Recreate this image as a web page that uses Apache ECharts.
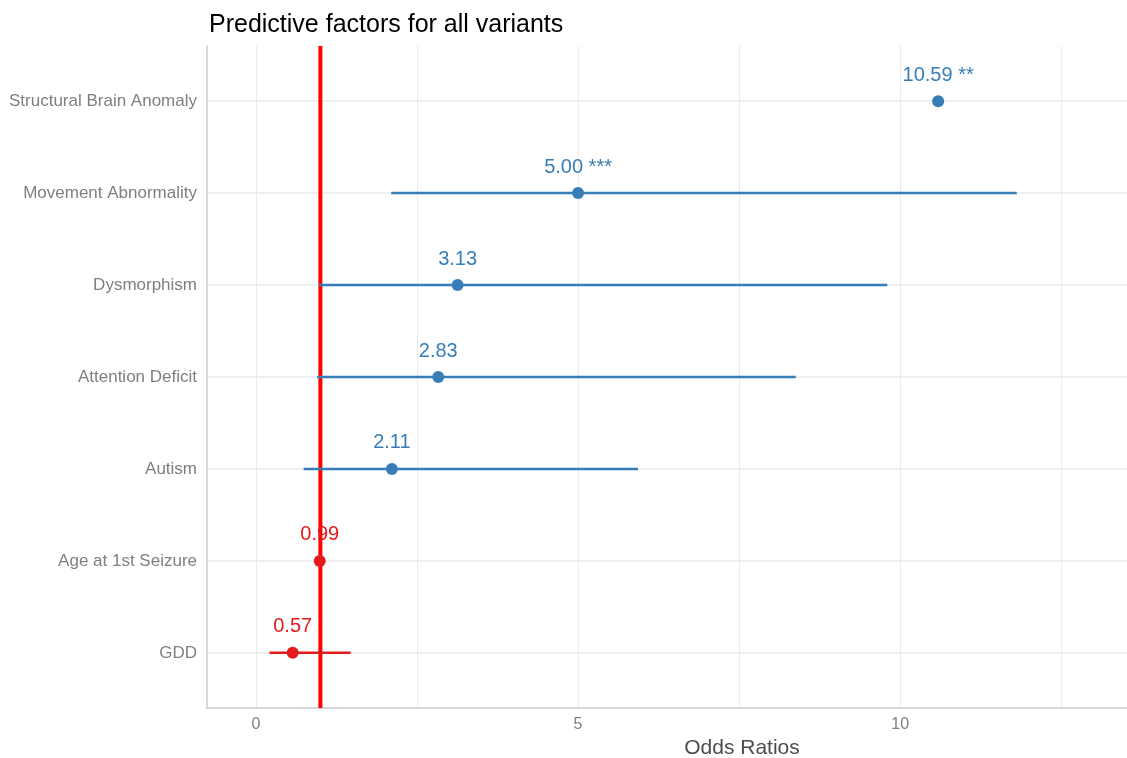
<!DOCTYPE html>
<html>
<head>
<meta charset="utf-8">
<script src="https://cdn.jsdelivr.net/npm/echarts@6/dist/echarts.min.js"></script>
<style>
  html, body { margin: 0; padding: 0; background: #ffffff; }
  #chart { width: 1127px; height: 758px; }
</style>
</head>
<body>
<div id="chart"></div>
<script>
// Predictors, listed bottom to top on the y axis
const factors = ['GDD', 'Age at 1st Seizure', 'Autism', 'Attention Deficit',
                 'Dysmorphism', 'Movement Abnormality', 'Structural Brain Anomaly'];
// Odds ratios and 95% confidence bounds (null = interval not shown)
const oddsRatios = [0.57, 0.99, 2.11, 2.83, 3.13, 5.00, 10.59];
const ciLower = [0.21, 0.98, 0.74, 0.95, 0.98, 2.10, null];
const ciUpper = [1.47, 1.01, 5.93, 8.38, 9.80, 11.81, null];
const significance = ['', '', '', '', '', '***', '**'];
// Axis ticks
const xGridValues = [0, 2.5, 5, 7.5, 10, 12.5, 15];
const xLabelValues = [0, 5, 10, 15];
const referenceOR = [1];

const BLUE = '#377EB8';
const RED = '#E41A1C';
const colorFor = v => (v < 1 ? RED : BLUE);
const rowIndex = factors.map((_, i) => i);
const FONT = 'Liberation Sans, Arial, sans-serif';

const chart = echarts.init(document.getElementById('chart'), null, { renderer: 'canvas' });

const ciData = rowIndex.filter(i => ciLower[i] !== null)
  .map(i => [ciLower[i], ciUpper[i], i, oddsRatios[i]]);
const pointData = rowIndex.map(i => ({
  value: [oddsRatios[i], i],
  itemStyle: { color: colorFor(oddsRatios[i]), opacity: 1 },
  label: {
    color: colorFor(oddsRatios[i]),
    formatter: oddsRatios[i].toFixed(2) + (significance[i] ? ' ' + significance[i] : '')
  }
}));

chart.setOption({
  animation: false,
  textStyle: { fontFamily: FONT },
  title: {
    text: 'Predictive factors for all variants',
    left: 204,
    top: 8,
    textStyle: { fontSize: 25, fontWeight: 'normal', color: '#000000', fontFamily: FONT }
  },
  grid: { left: 207, right: -150, top: 46, bottom: 50, containLabel: false, outerBoundsMode: 'none' },
  xAxis: {
    type: 'value',
    min: -0.76,
    max: 15.85,
    name: 'Odds Ratios',
    nameLocation: 'middle',
    nameGap: 29,
    nameTextStyle: { fontSize: 21, color: '#4d4d4d' },
    axisLine: { show: true, onZero: false, lineStyle: { color: '#cccccc', width: 1.5 } },
    axisTick: { show: false, customValues: xGridValues },
    axisLabel: { customValues: xLabelValues, fontSize: 16, color: '#7f7f7f', margin: 9 },
    splitLine: { show: true, lineStyle: { color: '#ebebeb', width: 1 } }
  },
  yAxis: {
    type: 'value',
    min: -0.6,
    max: 6.6,
    axisLine: { show: true, onZero: false, lineStyle: { color: '#cccccc', width: 1.5 } },
    axisTick: { show: false, customValues: rowIndex },
    axisLabel: {
      customValues: rowIndex,
      fontSize: 17,
      color: '#7f7f7f',
      margin: 10,
      formatter: v => factors[Math.round(v)]
    },
    splitLine: { show: true, lineStyle: { color: '#ebebeb', width: 1.5 } }
  },
  series: [
    {
      // vertical reference line at OR = 1
      type: 'custom',
      z: 1,
      data: referenceOR,
      renderItem: (params, api) => {
        const top = api.coord([api.value(0), 6.6]);
        const bottom = api.coord([api.value(0), -0.6]);
        return {
          type: 'line',
          shape: { x1: top[0], y1: top[1], x2: bottom[0], y2: bottom[1] },
          style: { stroke: '#ff0000', lineWidth: 4 }
        };
      }
    },
    {
      // confidence intervals
      type: 'custom',
      z: 2,
      data: ciData,
      encode: { x: [0, 1], y: 2 },
      renderItem: (params, api) => {
        const a = api.coord([api.value(0), api.value(2)]);
        const b = api.coord([api.value(1), api.value(2)]);
        return {
          type: 'line',
          shape: { x1: a[0], y1: a[1], x2: b[0], y2: b[1] },
          style: { stroke: colorFor(api.value(3)), lineWidth: 2.5 }
        };
      }
    },
    {
      // point estimates with value labels
      type: 'scatter',
      z: 3,
      symbol: 'circle',
      symbolSize: 12,
      itemStyle: { opacity: 1 },
      data: pointData,
      label: {
        show: true,
        position: 'top',
        distance: 10,
        fontSize: 20
      }
    }
  ]
});
</script>
</body>
</html>
